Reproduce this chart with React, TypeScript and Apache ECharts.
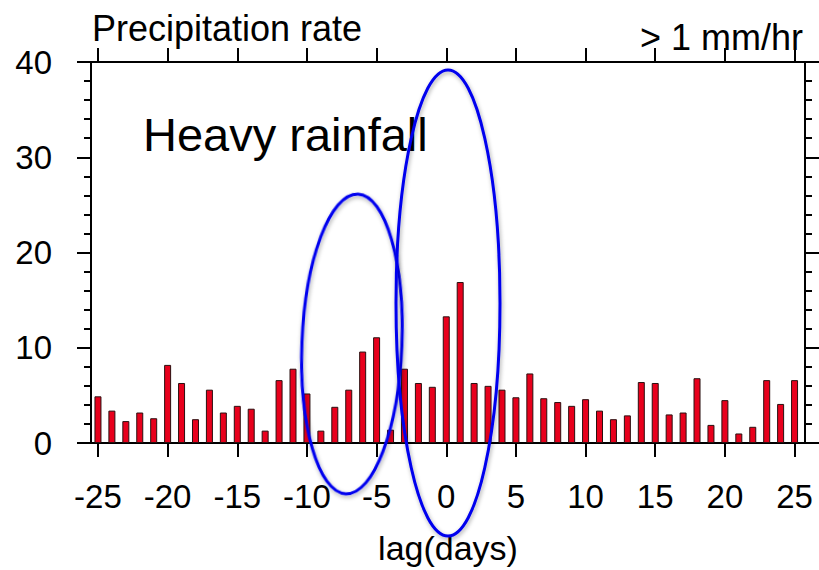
import React, { useEffect, useRef } from "react";
import * as echarts from "echarts";

const lags: number[] = [
  -25, -24, -23, -22, -21, -20, -19, -18, -17, -16, -15, -14, -13, -12, -11, -10, -9, -8, -7, -6, -5, -4, -3, -2, -1,
  0, 1, 2, 3, 4, 5, 6, 7, 8, 9, 10, 11, 12, 13, 14, 15, 16, 17, 18, 19, 20, 21, 22, 23, 24, 25,
];
const rates: number[] = [
  4.9, 3.4, 2.3, 3.2, 2.6, 8.2, 6.3, 2.5, 5.6, 3.2, 3.9, 3.6, 1.3, 6.6, 7.8, 5.2, 1.3, 3.8, 5.6, 9.6, 11.1, 1.4, 7.8, 6.3, 5.9,
  13.3, 16.9, 6.3, 6.0, 5.6, 4.8, 7.3, 4.7, 4.3, 3.9, 4.6, 3.4, 2.5, 2.9, 6.4, 6.3, 3.0, 3.2, 6.8, 1.9, 4.5, 1.0, 1.7, 6.6, 4.1, 6.6,
];
const xTicks: number[] = [-25, -20, -15, -10, -5, 0, 5, 10, 15, 20, 25];
const titleLeft = "Precipitation rate";
const titleRight = "> 1 mm/hr";
const annotation = "Heavy rainfall";
const xName = "lag(days)";

const FONT = "'Liberation Sans', Arial, Helvetica, sans-serif";

export default function App() {
  const ref = useRef<HTMLDivElement>(null);
  useEffect(() => {
    if (!ref.current) return;
    const chart = echarts.init(ref.current, null, { renderer: "svg" });
    const axisLine = { show: true, onZero: false, lineStyle: { color: "#000", width: 2 } };
    const majorTick = { show: true, inside: false, length: 14, lineStyle: { color: "#000", width: 2 } };
    const minorTick = { show: true, splitNumber: 5, length: 7, lineStyle: { color: "#000", width: 2 } };
    const ellipseStyle = {
      fill: "none",
      stroke: "#0000ee",
      lineWidth: 3,
      shadowBlur: 4,
      shadowColor: "rgba(0,0,0,0.35)",
      shadowOffsetX: 1,
      shadowOffsetY: 2,
    };
    chart.setOption({
      animation: false,
      backgroundColor: "#fff",
      grid: { left: 91, right: 14, top: 62, bottom: 126, containLabel: false },
      xAxis: [
        {
          type: "value",
          position: "bottom",
          min: -25.5,
          max: 25.75,
          axisLine,
          axisTick: { ...majorTick, customValues: xTicks },
          axisLabel: {
            customValues: xTicks,
            color: "#000",
            fontSize: 33,
            fontFamily: FONT,
            margin: 37,
          },
          splitLine: { show: false },
          name: xName,
          nameLocation: "middle",
          nameGap: 88,
          nameTextStyle: { color: "#000", fontSize: 34, fontFamily: FONT },
        },
        {
          type: "value",
          position: "top",
          min: -25.5,
          max: 25.75,
          axisLine,
          axisTick: { ...majorTick, customValues: xTicks },
          axisLabel: { show: false },
          splitLine: { show: false },
        },
      ],
      yAxis: [
        {
          type: "value",
          position: "left",
          min: 0,
          max: 40,
          interval: 10,
          axisLine,
          axisTick: majorTick,
          minorTick,
          axisLabel: { color: "#000", fontSize: 33, fontFamily: FONT, margin: 39 },
          splitLine: { show: false },
          minorSplitLine: { show: false },
        },
        {
          type: "value",
          position: "right",
          min: 0,
          max: 40,
          interval: 10,
          axisLine,
          axisTick: majorTick,
          minorTick,
          axisLabel: { show: false },
          splitLine: { show: false },
          minorSplitLine: { show: false },
        },
      ],
      series: [
        {
          type: "bar",
          xAxisIndex: 0,
          yAxisIndex: 0,
          barWidth: 7,
          data: lags.map((l, i) => [l, rates[i]]),
          itemStyle: { color: "#e8001c", borderColor: "#2a1010", borderWidth: 1 },
        },
      ],
      graphic: [
        {
          type: "text",
          x: 92,
          y: 28,
          z: 50,
          style: { text: titleLeft, fill: "#000", font: `36px ${FONT}`, align: "left", verticalAlign: "middle" },
        },
        {
          type: "text",
          x: 803,
          y: 37,
          z: 50,
          style: { text: titleRight, fill: "#000", font: `36px ${FONT}`, align: "right", verticalAlign: "middle" },
        },
        {
          type: "text",
          x: 143,
          y: 134,
          z: 50,
          style: { text: annotation, fill: "#000", font: `47px ${FONT}`, align: "left", verticalAlign: "middle" },
        },
        {
          type: "ellipse",
          z: 100,
          shape: { cx: 352, cy: 344, rx: 50, ry: 150 },
          originX: 352,
          originY: 344,
          rotation: -0.04,
          style: ellipseStyle,
        },
        {
          type: "ellipse",
          z: 100,
          shape: { cx: 448, cy: 303, rx: 52, ry: 233 },
          style: ellipseStyle,
        },
      ],
    });
    return () => chart.dispose();
  }, []);
  return <div ref={ref} style={{ position: "fixed", left: 0, top: 0, width: 819, height: 570 }} />;
}
